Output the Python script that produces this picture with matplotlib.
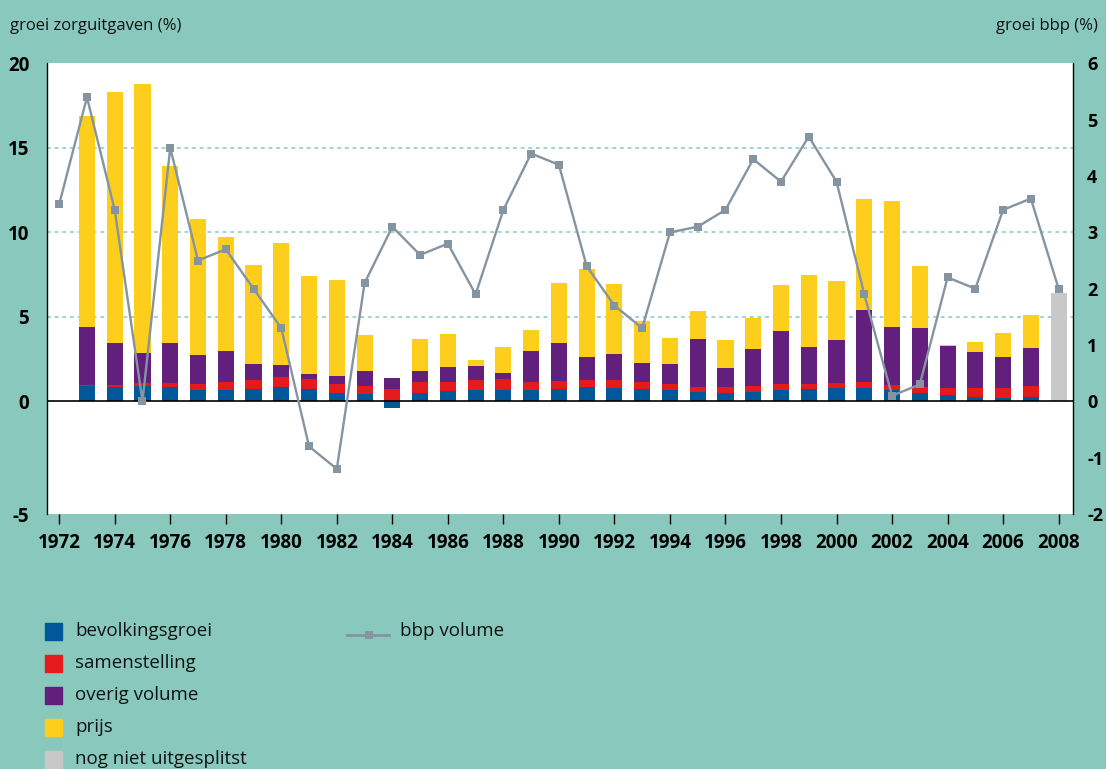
import numpy as np
import matplotlib
matplotlib.use('Agg')
import matplotlib.pyplot as plt
from matplotlib.patches import Rectangle
from matplotlib.lines import Line2D

# data
jaren = list(range(1973, 2008))
bevolkingsgroei = [0.90, 0.83, 0.93, 0.83, 0.67, 0.67, 0.71, 0.83, 0.71, 0.47, 0.43, -0.40,
                   0.47, 0.59, 0.65, 0.65, 0.65, 0.71, 0.83, 0.77, 0.71, 0.65, 0.53, 0.47,
                   0.53, 0.65, 0.71, 0.77, 0.77, 0.65, 0.47, 0.35, 0.24, 0.18, 0.24]
samenstelling = [0.05, 0.14, 0.13, 0.23, 0.36, 0.47, 0.55, 0.59, 0.59, 0.56, 0.47, 0.71,
                 0.65, 0.53, 0.59, 0.65, 0.47, 0.47, 0.41, 0.47, 0.41, 0.35, 0.30, 0.36,
                 0.36, 0.35, 0.29, 0.29, 0.35, 0.30, 0.36, 0.42, 0.53, 0.59, 0.65]
overig_volume = [3.45, 2.46, 1.78, 2.37, 1.69, 1.82, 0.95, 0.73, 0.30, 0.47, 0.88, 0.65,
                 0.66, 0.89, 0.83, 0.36, 1.84, 2.25, 1.36, 1.54, 1.13, 1.19, 2.84, 1.12,
                 2.19, 3.14, 2.20, 2.55, 4.26, 3.43, 3.49, 2.49, 2.13, 1.83, 2.25]
prijs = [12.50, 14.85, 15.96, 10.47, 8.05, 6.74, 5.84, 7.20, 5.80, 5.66, 2.12, 0.00,
         1.89, 1.95, 0.36, 1.54, 1.24, 3.55, 5.21, 4.14, 2.48, 1.54, 1.66, 1.66,
         1.83, 2.72, 4.26, 3.49, 6.57, 7.45, 3.67, 0.06, 0.59, 1.42, 1.95]
nog_jaren = [2008]
nog_niet_uitgesplitst = [6.4]

bbp_jaren = list(range(1972, 2009))
bbp_volume = [3.5, 5.4, 3.4, 0.0, 4.5, 2.5, 2.7, 2.0, 1.3, -0.8, -1.2, 2.1, 3.1, 2.6, 2.8,
              1.9, 3.4, 4.4, 4.2, 2.4, 1.7, 1.3, 3.0, 3.1, 3.4, 4.3, 3.9, 4.7, 3.9, 1.9,
              0.1, 0.3, 2.2, 2.0, 3.4, 3.6, 2.0]

# colours
bg = '#89C9BD'
c_blue = '#00589B'
c_red = '#E31B1D'
c_purple = '#621F7B'
c_yellow = '#FDCF1C'
c_gray = '#C7C8C7'
c_line = '#8494A0'

plt.rcParams['font.family'] = ['Open Sans', 'DejaVu Sans']
plt.rcParams['axes.unicode_minus'] = False

W, H = 1106, 769
fig = plt.figure(figsize=(W / 100, H / 100), dpi=100, facecolor=bg)

left, right, top, bottom = 46.7, 1072.5, 63.4, 514
ax = fig.add_axes([left / W, 1 - bottom / H, (right - left) / W, (bottom - top) / H])
ax.set_facecolor('white')

blue = np.array(bevolkingsgroei)
red = np.array(samenstelling)
purple = np.array(overig_volume)
yellow = np.array(prijs)
b_red = np.maximum(blue, 0)
b_purple = b_red + red
b_yellow = b_purple + purple

bw = 0.58
ax.bar(jaren, blue, width=bw, color=c_blue, zorder=2)
ax.bar(jaren, red, width=bw, bottom=b_red, color=c_red, zorder=2)
ax.bar(jaren, purple, width=bw, bottom=b_purple, color=c_purple, zorder=2)
ax.bar(jaren, yellow, width=bw, bottom=b_yellow, color=c_yellow, zorder=2)
ax.bar(nog_jaren, nog_niet_uitgesplitst, width=bw, color=c_gray, zorder=2)

for y in [5, 10, 15]:
    ax.axhline(y, color=bg, lw=1.1, linestyle=(0, (2.5, 2.5)), zorder=1)
ax.axhline(0, color='black', lw=1.2, zorder=3)

ax.set_xlim(1971.55, 2008.5)
ax.set_ylim(-20 / 3, 20)
ax.set_xticks(range(1972, 2009, 2))
ax.set_yticks([-20 / 3, 0, 5, 10, 15, 20])
ax.set_yticklabels(['-5', '0', '5', '10', '15', '20'])
ax.tick_params(axis='x', length=7.5, width=1, pad=6, labelsize=13.5)
ax.tick_params(axis='y', length=0, pad=12.5, labelsize=13.5)
for lab in ax.get_xticklabels() + ax.get_yticklabels():
    lab.set_fontweight('bold')
for s in ['top', 'bottom', 'right']:
    ax.spines[s].set_visible(False)
ax.spines['left'].set_linewidth(1)

ax2 = ax.twinx()
ax2.plot(bbp_jaren, bbp_volume, color=c_line, lw=1.7, marker='s', ms=5.5,
         markeredgewidth=0, zorder=4)
ax2.set_ylim(-2, 6)
ax2.set_yticks(range(-2, 7))
ax2.tick_params(axis='y', length=0, pad=10.5, labelsize=13)
for lab in ax2.get_yticklabels():
    lab.set_fontweight('bold')
for s in ['top', 'bottom', 'left']:
    ax2.spines[s].set_visible(False)
ax2.spines['right'].set_linewidth(1)

# axis titles
fig.text(10 / W, 1 - 26 / H, 'groei zorguitgaven (%)', fontsize=12, va='center', ha='left',
         color='#111111')
fig.text(1098 / W, 1 - 26 / H, 'groei bbp (%)', fontsize=12, va='center', ha='right',
         color='#111111')

# legend
legend_items = [('bevolkingsgroei', c_blue), ('samenstelling', c_red),
                ('overig volume', c_purple), ('prijs', c_yellow),
                ('nog niet uitgesplitst', c_gray)]
for i, (naam, kleur) in enumerate(legend_items):
    yc = 631 + 32 * i
    fig.add_artist(Rectangle((45 / W, 1 - (yc + 8.5) / H), 17 / W, 17 / H,
                             transform=fig.transFigure, color=kleur))
    fig.text(75 / W, 1 - yc / H, naam, fontsize=13.5, va='center', ha='left', color='#111111')

fig.add_artist(Line2D([347 / W, 389 / W], [1 - 635 / H] * 2, transform=fig.transFigure,
                      color=c_line, lw=2))
fig.add_artist(Line2D([369 / W], [1 - 635 / H], transform=fig.transFigure, color=c_line,
                      marker='s', ms=5.5, markeredgewidth=0))
fig.text(400 / W, 1 - 631 / H, 'bbp volume', fontsize=13.5, va='center', ha='left',
         color='#111111')

plt.savefig('out.png', dpi=100, facecolor=bg)
